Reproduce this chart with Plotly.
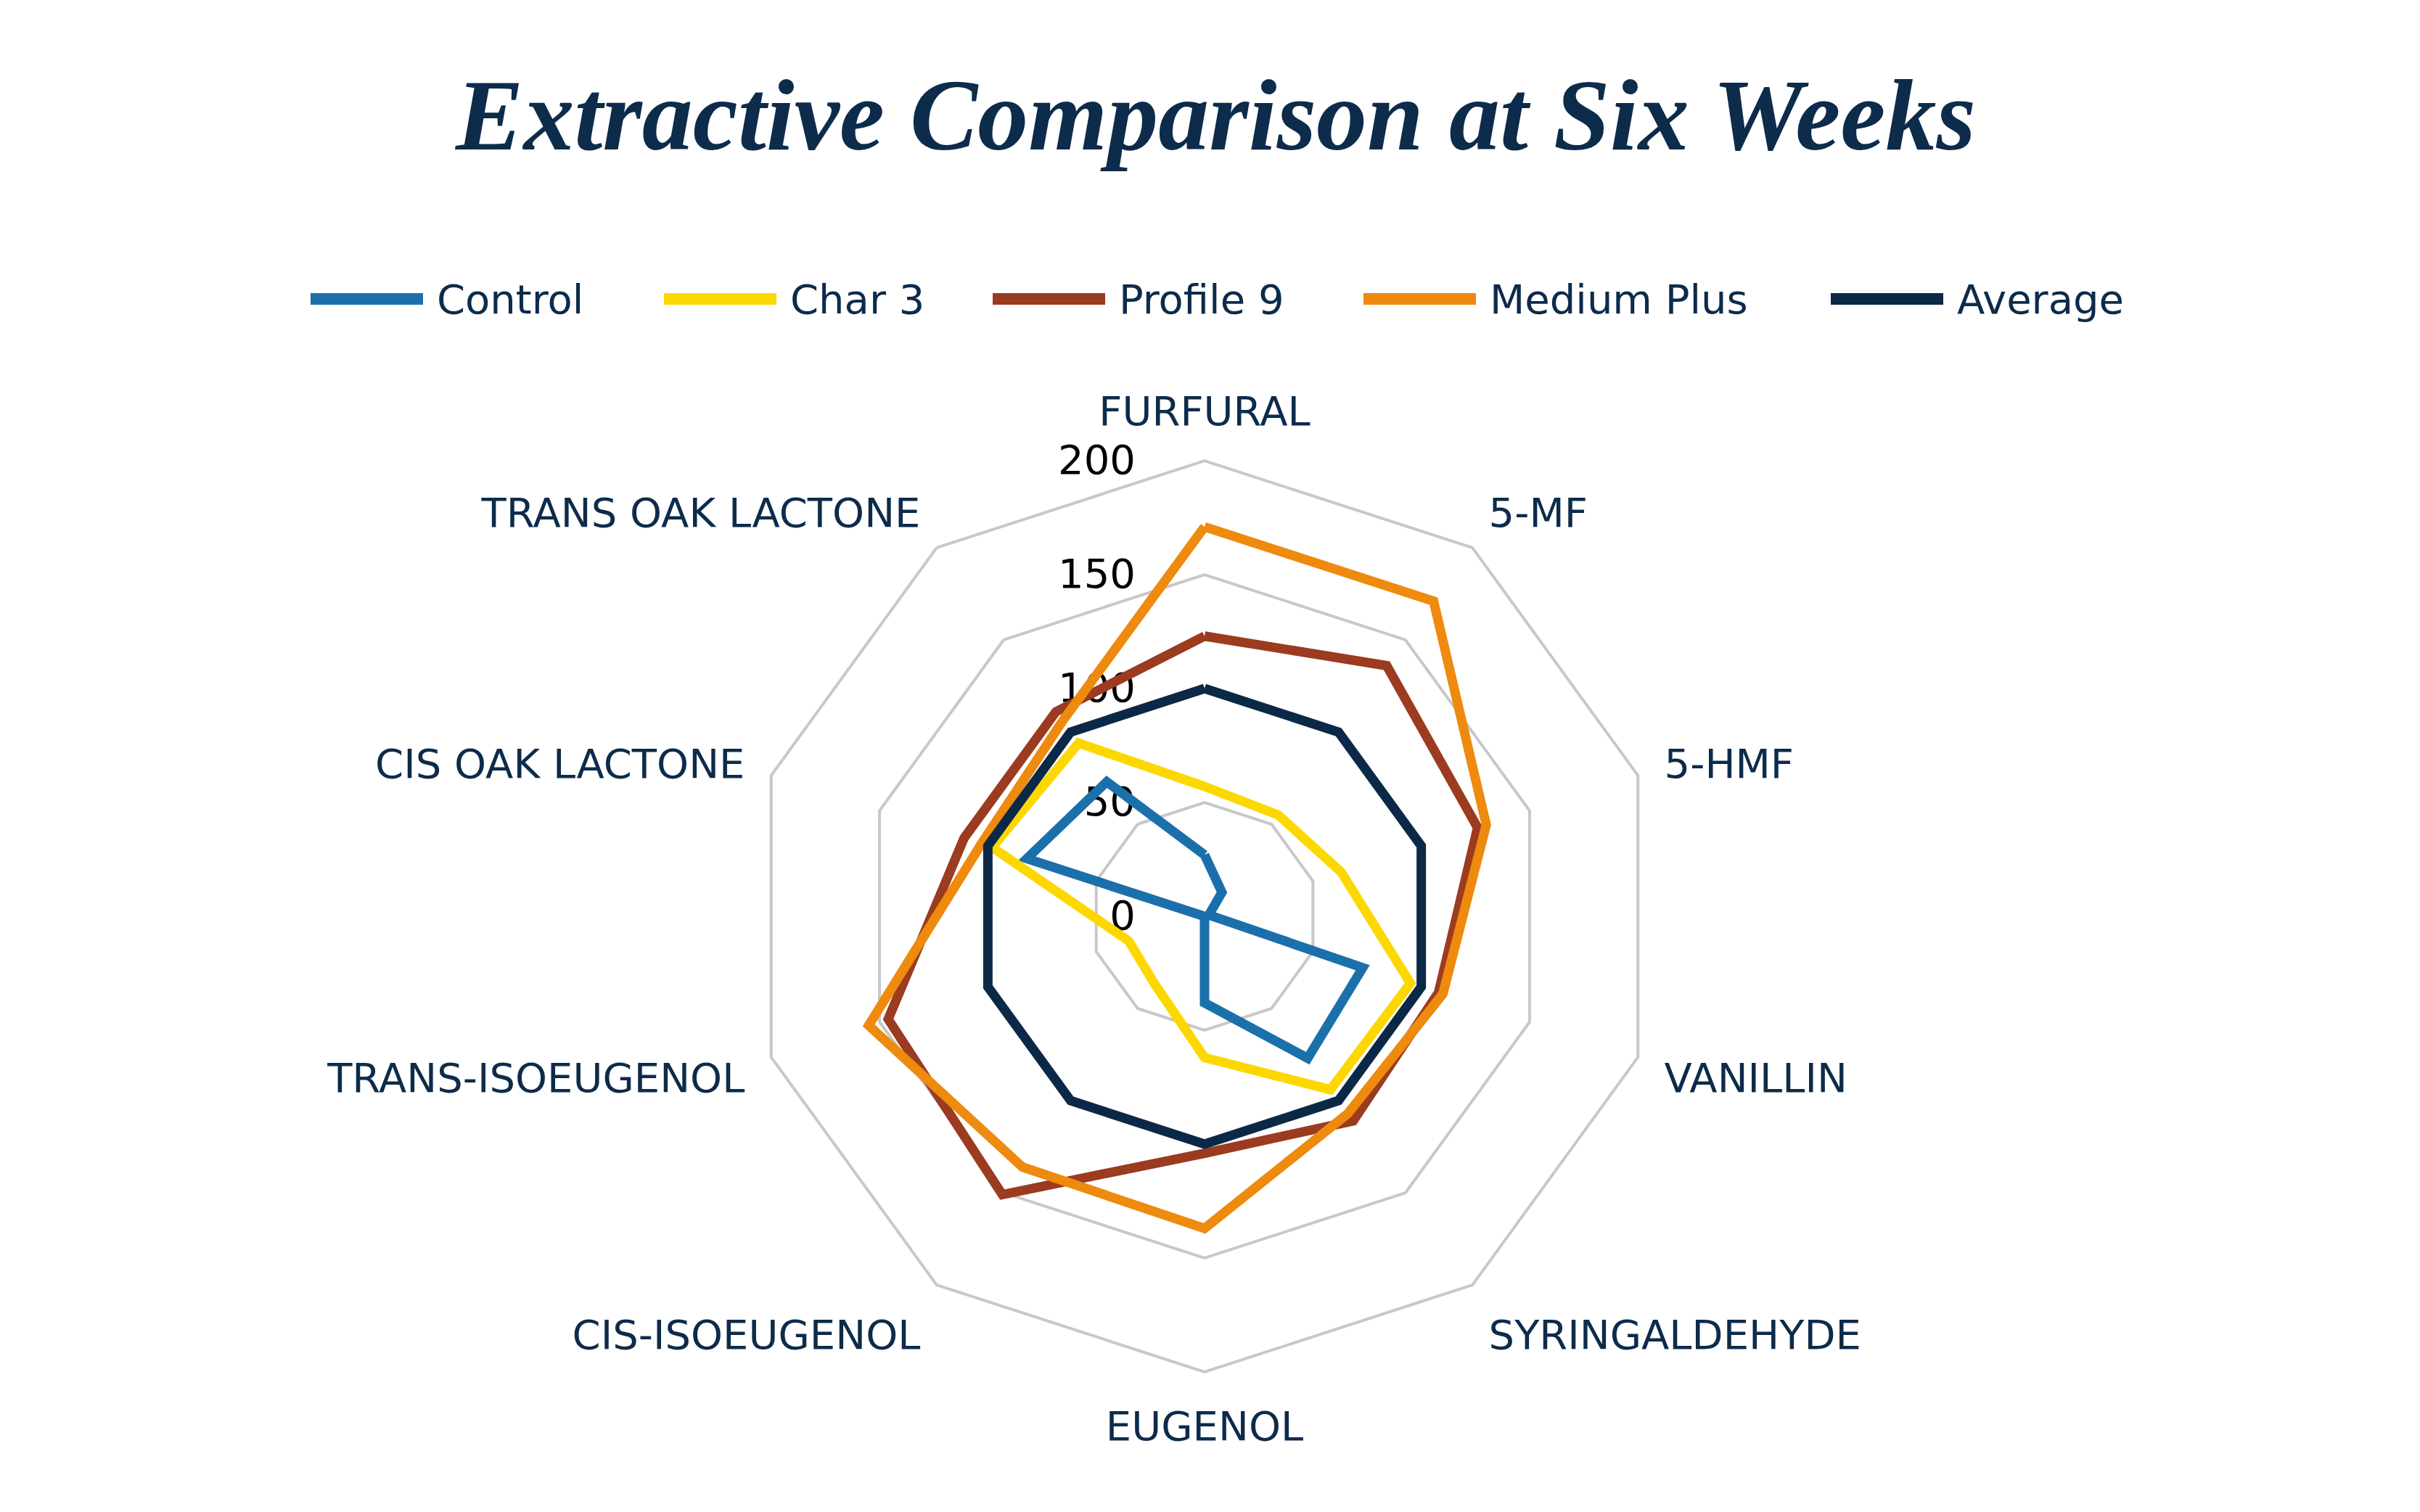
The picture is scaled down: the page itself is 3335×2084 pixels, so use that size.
import plotly.graph_objects as go

categories = ["FURFURAL", "5-MF", "5-HMF", "VANILLIN", "SYRINGALDEHYDE", "EUGENOL",
              "CIS-ISOEUGENOL", "TRANS-ISOEUGENOL", "CIS OAK LACTONE", "TRANS OAK LACTONE"]

control = [27, 13, 2, 73, 77, 38, 0, 0, 82, 73]
char_3 = [57, 55, 63, 95, 94, 62, 37, 35, 98, 94]
profile_9 = [123, 136, 126, 108, 111, 104, 151, 146, 111, 111]
medium_plus = [171, 171, 130, 110, 107, 137, 136, 155, 103, 106]
average = [100, 100, 100, 100, 100, 100, 100, 100, 100, 100]

series_names = ["Control", "Char 3", "Profile 9", "Medium Plus", "Average"]
series_values = [control, char_3, profile_9, medium_plus, average]
colors = ["#1b70ab", "#fcd800", "#9b3b20", "#ee8a0e", "#0b2947"]

radial_ticks = [0, 50, 100, 150, 200]

NAVY = "#0d2b4a"
FONT = "DejaVu Sans"
W, H = 3335, 2084
CX, CY, R = 1652, 1255, 628

# legend layout (pixel x of each swatch start), drawn as decoration
legend_swatch_x = [420, 907, 1360, 1871, 2515]
LEG_Y = 404
SW_LEN = 155

fig = go.Figure()
for name, vals, col in zip(series_names, series_values, colors):
    fig.add_trace(go.Scatterpolar(
        r=vals + vals[:1], theta=categories + categories[:1],
        mode="lines", line=dict(color=col, width=13),
        name=name, showlegend=False, hoverinfo="skip"))

shapes = []
annotations = []
for name, col, x0 in zip(series_names, colors, legend_swatch_x):
    shapes.append(dict(type="line", xref="paper", yref="paper",
                       x0=x0 / W, x1=(x0 + SW_LEN) / W,
                       y0=1 - LEG_Y / H, y1=1 - LEG_Y / H,
                       line=dict(color=col, width=16)))
    annotations.append(dict(text=name, xref="paper", yref="paper",
                            x=(x0 + SW_LEN + 17) / W, y=1 - LEG_Y / H,
                            xanchor="left", yanchor="middle", showarrow=False,
                            font=dict(family=FONT, size=56, color=NAVY)))

fig.update_layout(
    width=W, height=H,
    margin=dict(l=0, r=0, t=0, b=0),
    paper_bgcolor="white", plot_bgcolor="white",
    showlegend=False,
    shapes=shapes, annotations=annotations,
    title=dict(text="<b><i>Extractive Comparison at Six Weeks</i></b>",
               x=0.5, xanchor="center", y=1 - 149 / H, yanchor="middle",
               font=dict(family="Liberation Serif", size=140, color=NAVY)),
    polar=dict(
        domain=dict(x=[(CX - R) / W, (CX + R) / W],
                    y=[(H - CY - R) / H, (H - CY + R) / H]),
        gridshape="linear",
        bgcolor="white",
        radialaxis=dict(range=[0, 200], tickvals=radial_ticks,
                        ticktext=[str(v) for v in radial_ticks],
                        angle=90,
                        showline=False, showgrid=True,
                        gridcolor="#c8c8c8", gridwidth=4,
                        ticks="outside", ticklen=75, tickcolor="rgba(0,0,0,0)",
                        side="counterclockwise", tickangle=90,
                        tickfont=dict(family=FONT, size=56, color="black"),
                        layer="below traces"),
        angularaxis=dict(rotation=90, direction="clockwise",
                         showgrid=False, showline=True,
                         linecolor="#c8c8c8", linewidth=4,
                         ticks="outside", ticklen=25, tickcolor="rgba(0,0,0,0)",
                         tickfont=dict(family=FONT, size=56, color=NAVY),
                         layer="below traces"),
    ),
)

fig.write_html("out.html")
